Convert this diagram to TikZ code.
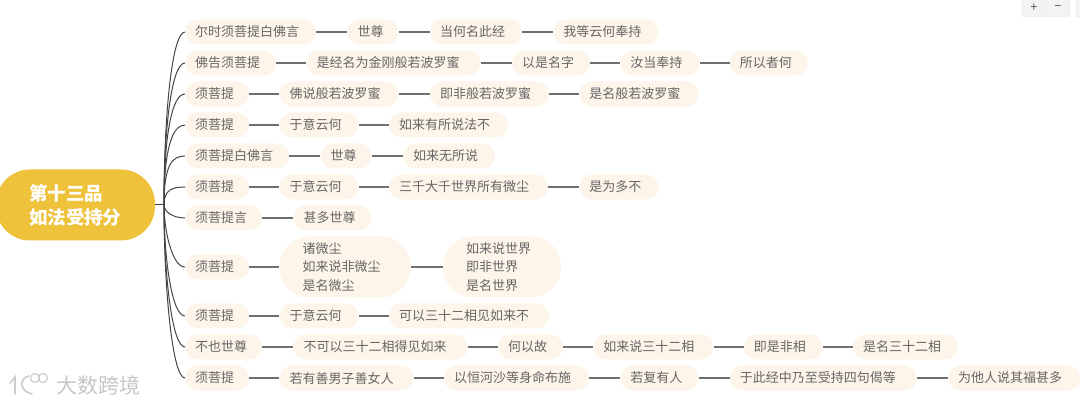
\documentclass[tikz,border=0pt]{standalone}
\usepackage{fontspec}
\setmainfont{Noto Sans CJK SC}
\usetikzlibrary{positioning}
\definecolor{itemfill}{HTML}{FDF5E9}
\definecolor{itemtext}{HTML}{666666}
\definecolor{rootfill}{HTML}{EFC23C}
\definecolor{linkgray}{HTML}{707070}
\definecolor{branchgray}{HTML}{444444}
\definecolor{btnfill}{HTML}{F2F3F5}
\tikzset{
  item/.style={fill=itemfill,text=itemtext,rounded corners=12.5pt,inner xsep=10pt,inner ysep=0pt,
    minimum height=25pt,text width=#1,align=left,font=\fontsize{13}{18.5}\selectfont},
  block/.style={item=#1,rounded corners=30pt,inner xsep=23pt,minimum height=61pt},
  link/.style={linkgray,line width=1.2pt},
  branch/.style={branchgray,line width=1pt},
  btn/.style={fill=btnfill,draw=black!8,rounded corners=2pt,minimum width=24pt,minimum height=18pt,inner sep=0pt,text=black!70,font=\fontsize{12}{12}\selectfont},
  logoline/.style={draw=black!20,line width=1.6pt,line cap=round}
}
\begin{document}
\begin{tikzpicture}[x=1pt,y=-1pt]
  \useasboundingbox (0,0) rectangle (1080,406);
  \node[fill=rootfill,rounded corners=34pt,minimum width=159pt,minimum height=71pt,inner sep=0pt,
    text=white,align=left,text width=93pt,font=\fontsize{18.5}{24}\selectfont\bfseries] (root) at (75.5,205) {第十三品\\如法受持分};
  \coordinate (hub) at (164,205);
  % rows
  \node[item=111,anchor=west] (a1) at (185,32) {尔时须菩提白佛言};
  \node[item=31,right=31pt of a1] (a2) {世尊};
  \node[item=72,right=31pt of a2] (a3) {当何名此经};
  \node[item=85,right=31pt of a3] (a4) {我等云何奉持};

  \node[item=71,anchor=west] (b1) at (185,63) {佛告须菩提};
  \node[item=154,right=30pt of b1] (b2) {是经名为金刚般若波罗蜜};
  \node[item=58,right=31pt of b2] (b3) {以是名字};
  \node[item=59,right=30pt of b3] (b4) {汝当奉持};
  \node[item=58,right=30pt of b4] (b5) {所以者何};

  \node[item=44,anchor=west] (c1) at (185,94) {须菩提};
  \node[item=99,right=30pt of c1] (c2) {佛说般若波罗蜜};
  \node[item=99,right=31pt of c2] (c3) {即非般若波罗蜜};
  \node[item=99,right=30pt of c3] (c4) {是名般若波罗蜜};

  \node[item=44,anchor=west] (d1) at (185,125) {须菩提};
  \node[item=59,right=30pt of d1] (d2) {于意云何};
  \node[item=99,right=30pt of d2] (d3) {如来有所说法不};

  \node[item=84,anchor=west] (e1) at (185,156) {须菩提白佛言};
  \node[item=31,right=31pt of e1] (e2) {世尊};
  \node[item=72,right=31pt of e2] (e3) {如来无所说};

  \node[item=44,anchor=west] (f1) at (185,187) {须菩提};
  \node[item=59,right=30pt of f1] (f2) {于意云何};
  \node[item=139,right=30pt of f2] (f3) {三千大千世界所有微尘};
  \node[item=59,right=31pt of f3] (f4) {是为多不};

  \node[item=57,anchor=west] (g1) at (185,218) {须菩提言};
  \node[item=58,right=31pt of g1] (g2) {甚多世尊};

  \node[item=44,anchor=west] (h1) at (185,267) {须菩提};
  \node[block=85,right=30pt of h1] (h2) {诸微尘\\如来说非微尘\\是名微尘};
  \node[block=72,right=32pt of h2] (h3) {如来说世界\\即非世界\\是名世界};

  \node[item=44,anchor=west] (i1) at (185,316) {须菩提};
  \node[item=59,right=30pt of i1] (i2) {于意云何};
  \node[item=140,right=30pt of i2] (i3) {可以三十二相见如来不};

  \node[item=57,anchor=west] (j1) at (185,347) {不也世尊};
  \node[item=154,right=31pt of j1] (j2) {不可以三十二相得见如来};
  \node[item=45,right=30pt of j2] (j3) {何以故};
  \node[item=100,right=30pt of j3] (j4) {如来说三十二相};
  \node[item=59,right=30pt of j4] (j5) {即是非相};
  \node[item=85,right=30pt of j5] (j6) {是名三十二相};

  \node[item=44,anchor=west] (k1) at (185,378) {须菩提};
  \node[item=114,right=30pt of k1] (k2) {若有善男子善女人};
  \node[item=125,right=30pt of k2] (k3) {以恒河沙等身命布施};
  \node[item=58,right=31pt of k3] (k4) {若复有人};
  \node[item=167,right=31pt of k4] (k5) {于此经中乃至受持四句偈等};
  \node[item=112,right=31pt of k5] (k6) {为他人说其福甚多};

  % links inside the rows
  \foreach \from/\to in {a1/a2,a2/a3,a3/a4,b1/b2,b2/b3,b3/b4,b4/b5,c1/c2,c2/c3,c3/c4,d1/d2,d2/d3,e1/e2,e2/e3,
    f1/f2,f2/f3,f3/f4,g1/g2,h1/h2,h2/h3,i1/i2,i2/i3,j1/j2,j2/j3,j3/j4,j4/j5,j5/j6,k1/k2,k2/k3,k3/k4,k4/k5,k5/k6}
    \draw[link] (\from) -- (\to);

  % branches from the root
  \draw[branch] (root.east) -- (hub);
  \foreach \to/\ctrl/\end in {a1/115/32,b1/125/63,c1/135/94,d1/150/125,e1/165/156,f1/190/187,
    g1/211/218,h1/230/267,i1/260/316,j1/275/347,k1/285/378}
    \draw[branch] (hub) .. controls (164,\ctrl) and (172,\end) .. (\to.west);

  % zoom buttons
  \node[btn] (plus) at (1034,8) {+};
  \node[btn] (minus) at (1058,8) {−};
  \node[btn] (more) at (1088,8) {};

  % watermark
  \node[text=black!22,font=\fontsize{21}{21}\selectfont,anchor=west,inner sep=0pt] (mark) at (56,385) {大数跨境};
  \draw[logoline] (10,383) -- (15,377) -- (15,394);
  \draw[logoline] (29,376) .. controls (19,378) and (19,391) .. (32,394);
  \node[logoline,draw,circle,line width=1.2pt,minimum size=9pt,inner sep=0pt] (ringa) at (35,378) {};
  \node[logoline,draw,circle,line width=1.2pt,minimum size=9pt,inner sep=0pt] (ringb) at (43,378) {};
\end{tikzpicture}
\end{document}
